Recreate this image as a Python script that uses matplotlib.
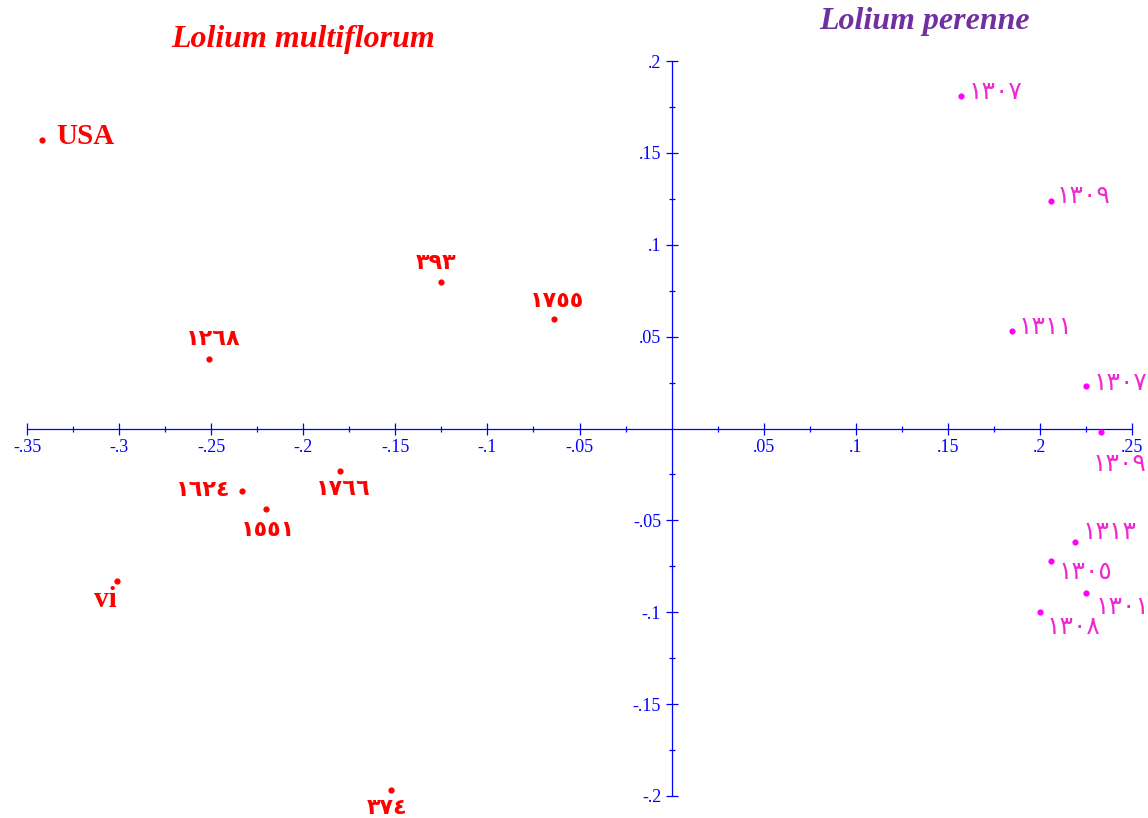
import matplotlib
matplotlib.use("Agg")
import matplotlib.pyplot as plt
import numpy as np

# ---- data ----
multi_labels = ["USA", "١٢٦٨", "٣٩٣", "١٧٥٥", "١٦٢٤", "١٥٥١", "١٧٦٦", "vi", "٣٧٤"]
multi_x = [-0.342, -0.251, -0.1254, -0.064, -0.233, -0.220, -0.180, -0.301, -0.1525]
multi_y = [0.157, 0.038, 0.0796, 0.0594, -0.034, -0.0436, -0.0234, -0.083, -0.197]

peren_labels = ["١٣٠٧", "١٣٠٩", "١٣١١", "١٣٠٧", "١٣٠٩", "١٣١٣", "١٣٠٥", "١٣٠١", "١٣٠٨"]
peren_x = [0.157, 0.206, 0.1846, 0.2248, 0.233, 0.219, 0.206, 0.225, 0.200]
peren_y = [0.181, 0.124, 0.0529, 0.0229, -0.002, -0.062, -0.072, -0.0894, -0.0997]

xticks = [-0.35, -0.3, -0.25, -0.2, -0.15, -0.1, -0.05, 0.05, 0.1, 0.15, 0.2, 0.25]
xticklabels = ["-.35", "-.3", "-.25", "-.2", "-.15", "-.1", "-.05", ".05", ".1", ".15", ".2", ".25"]
yticks = [-0.2, -0.15, -0.1, -0.05, 0.05, 0.1, 0.15, 0.2]
yticklabels = ["-.2", "-.15", "-.1", "-.05", ".05", ".1", ".15", ".2"]

# label placement (pixel offsets, converted to points) and alignment
multi_off = [(15, 4, "left"), (4, 19, "center"), (-5, 18, "center"), (3, 17, "center"),
             (-12, 0, "right"), (2, -22, "center"), (3, -19, "center"), (-12, -18, "center"),
             (-4, -19, "center")]
peren_off = [(8, 3, "left"), (6, 4, "left"), (7, 3, "left"), (8, 2, "left"),
             (-8, -33, "left"), (8, 9, "left"), (8, -12, "left"), (10, -15, "left"),
             (7, -16, "left")]

BLUE = "#0000FF"
RED = "#FF0000"
MAG = "#FF00FF"
MAG_TXT = "#F028D0"
PURPLE = "#7030A0"

W, H = 1148, 818
fig = plt.figure(figsize=(W / 100, H / 100), dpi=100)
ax = fig.add_axes([27 / W, (H - 796) / H, (1132 - 27) / W, (796 - 61) / H])
ax.set_xlim(-0.35, 0.25)
ax.set_ylim(-0.2, 0.2)

for s in ["top", "right"]:
    ax.spines[s].set_visible(False)
ax.spines["left"].set_position(("data", 0))
ax.spines["bottom"].set_position(("data", 0))
for s in ["left", "bottom"]:
    ax.spines[s].set_color(BLUE)
    ax.spines[s].set_linewidth(0.9)

ax.set_xticks(xticks)
ax.set_xticklabels(xticklabels)
ax.set_yticks(yticks)
ax.set_yticklabels(yticklabels)
ax.set_xticks(np.arange(-0.325, 0.25, 0.05), minor=True)
ax.set_yticks(np.arange(-0.175, 0.2, 0.05), minor=True)
ax.tick_params(which="major", direction="inout", length=9, width=0.9, color=BLUE,
               labelcolor=BLUE, labelsize=13, pad=3)
ax.tick_params(which="minor", direction="inout", length=4.5, width=0.9, color=BLUE)
for lab in ax.get_xticklabels() + ax.get_yticklabels():
    lab.set_family(["Liberation Serif", "DejaVu Serif"])

ax.scatter(multi_x, multi_y, s=12, color=RED, zorder=3, clip_on=False)
ax.scatter(peren_x, peren_y, s=12, color=MAG, zorder=3, clip_on=False)

for lab, x, y, (dx, dy, ha) in zip(multi_labels, multi_x, multi_y, multi_off):
    latin = lab.isascii()
    ax.annotate(lab, (x, y), xytext=(dx * 0.72, dy * 0.72), textcoords="offset points",
                ha=ha, va="center", color=RED, fontweight="bold",
                fontsize=21 if latin else 16,
                family=["Liberation Serif", "DejaVu Sans"], annotation_clip=False)

for lab, x, y, (dx, dy, ha) in zip(peren_labels, peren_x, peren_y, peren_off):
    ax.annotate(lab, (x, y), xytext=(dx * 0.72, dy * 0.72), textcoords="offset points",
                ha=ha, va="center", color=MAG_TXT, fontsize=18,
                family=["Liberation Serif", "DejaVu Sans"], annotation_clip=False)

fig.text(303 / W, 1 - 40 / H, "Lolium multiflorum", color=RED, fontsize=23,
         fontweight="bold", fontstyle="italic", family="Liberation Serif",
         ha="center", va="center")
fig.text(925 / W, 1 - 22 / H, "Lolium perenne", color=PURPLE, fontsize=23,
         fontweight="bold", fontstyle="italic", family="Liberation Serif",
         ha="center", va="center")

fig.savefig("out.png", dpi=100)
